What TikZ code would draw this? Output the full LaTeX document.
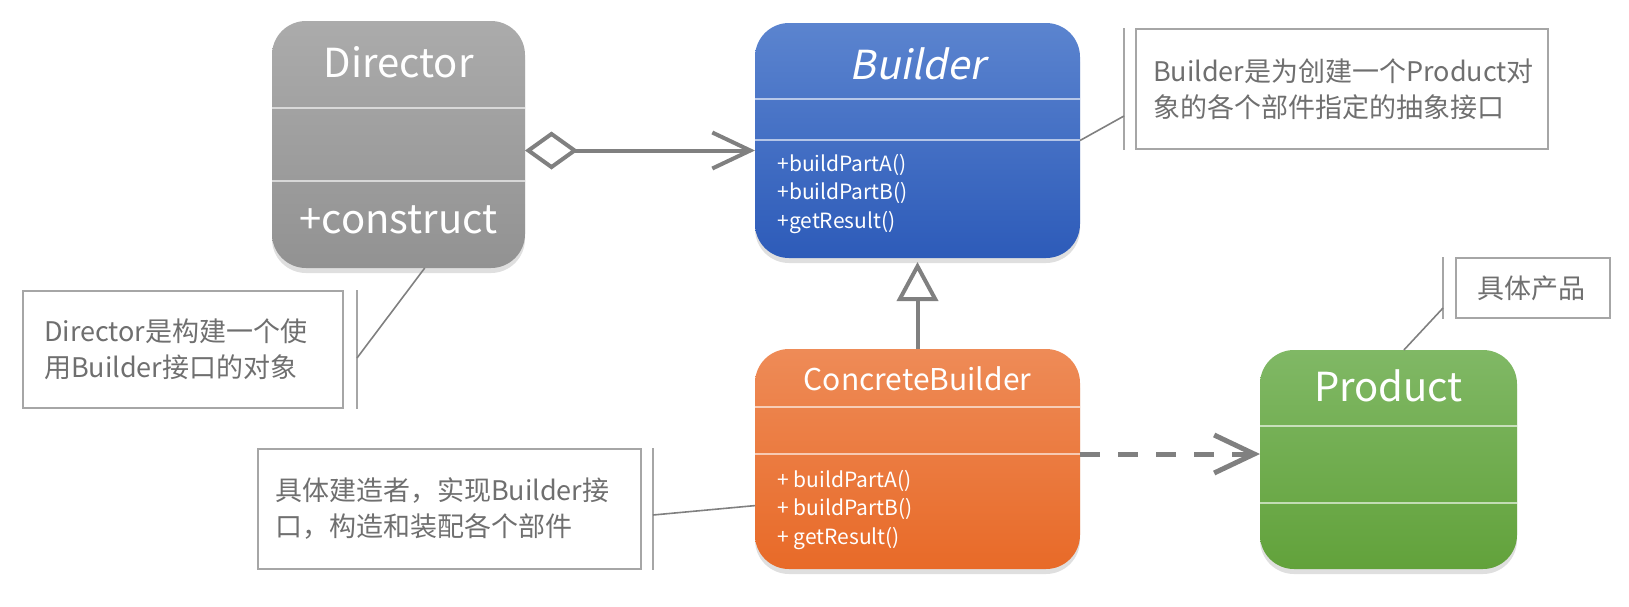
\documentclass[tikz,border=0pt]{standalone}
\usepackage{fontspec}
\setmainfont{Noto Sans CJK SC}
\newfontfamily\slantfont{Noto Sans CJK SC}[FakeSlant=0.2]
\usepackage{xcolor}
\usetikzlibrary{positioning, arrows.meta, shadows, calc}

\definecolor{linegray}{HTML}{808080}
\definecolor{notegray}{HTML}{A6A6A6}
\definecolor{notetext}{HTML}{6F6F6F}
\definecolor{dirtop}{HTML}{ABABAB}
\definecolor{dirbot}{HTML}{929292}
\definecolor{bldtop}{HTML}{5B84CF}
\definecolor{bldbot}{HTML}{2D5BB9}
\definecolor{cbtop}{HTML}{EE8B57}
\definecolor{cbbot}{HTML}{E86A28}
\definecolor{prodtop}{HTML}{80B865}
\definecolor{prodbot}{HTML}{62A23B}

\begin{document}
\begin{tikzpicture}[x=0.5pt, y=-0.5pt,
    umlclass/.style={rectangle, rounded corners=17pt, inner sep=0pt, outer sep=0pt, drop shadow={opacity=0.25, shadow xshift=0pt, shadow yshift=-2.5pt}},
    divider/.style={draw=white, draw opacity=0.6, line width=0.6pt},
    classname/.style={text=white, font=\fontsize{20}{24}\selectfont},
    methods/.style={text=white, anchor=west, align=left, inner sep=0pt, font=\fontsize{10.5}{14.25}\selectfont},
    note/.style={rectangle, draw=notegray, line width=1pt, text=notetext, align=left, inner ysep=0pt, font=\fontsize{13.5}{18}\selectfont},
    notebar/.style={draw=notegray, line width=1pt},
    pin/.style={draw=linegray, line width=0.8pt},
    aggregate/.style={draw=linegray, line width=2pt, {Diamond[open, length=26.5pt, width=19pt]}-{Straight Barb[length=19pt, width=18pt]}},
    inherit/.style={draw=linegray, line width=2pt, shorten >=2pt, -{Triangle[open, length=19.5pt, width=20.5pt]}},
    depend/.style={draw=linegray, line width=2.5pt, dash pattern=on 10pt off 9pt, -{Straight Barb[length=20pt, width=19pt]}}
]
\useasboundingbox (0,0) rectangle (1629,606);

% class boxes
\node[umlclass, top color=dirtop, bottom color=dirbot, minimum width=126.5pt, minimum height=123.5pt] (director) at (398.5,144.5) {};
\node[umlclass, top color=bldtop, bottom color=bldbot, minimum width=162.5pt, minimum height=117.5pt] (builder) at (917.5,140.5) {};
\node[umlclass, top color=cbtop, bottom color=cbbot, minimum width=162.5pt, minimum height=110pt] (concrete) at (917.5,459) {};
\node[umlclass, top color=prodtop, bottom color=prodbot, minimum width=128.5pt, minimum height=109.5pt] (product) at (1388.5,459.5) {};

\draw[divider] ($(director.north west)+(0,87)$) -- ($(director.north east)+(0,87)$);
\draw[divider] ($(director.north west)+(0,160)$) -- ($(director.north east)+(0,160)$);
\draw[divider] ($(builder.north west)+(0,76)$) -- ($(builder.north east)+(0,76)$);
\draw[divider] ($(builder.north west)+(0,117)$) -- ($(builder.north east)+(0,117)$);
\draw[divider] ($(concrete.north west)+(0,58)$) -- ($(concrete.north east)+(0,58)$);
\draw[divider] ($(concrete.north west)+(0,105)$) -- ($(concrete.north east)+(0,105)$);
\draw[divider] ($(product.north west)+(0,76)$) -- ($(product.north east)+(0,76)$);
\draw[divider] ($(product.north west)+(0,153)$) -- ($(product.north east)+(0,153)$);

\node[classname] (directorname) at (398.5,62) {Director};
\node[classname] (directorop) at (398.5,220) {+construct};
\node[classname] (buildername) at (917.5,64) {\slantfont Builder};
\node[methods] (builderops) at (777,194) {+buildPartA()\\+buildPartB()\\+getResult()};
\node[classname, font=\fontsize{15}{18}\selectfont] (concretename) at (917.5,379) {ConcreteBuilder};
\node[methods] (concreteops) at (777,510) {+ buildPartA()\\+ buildPartB()\\+ getResult()};
\node[classname] (productname) at (1388.5,386) {Product};

% notes
\node[note, minimum width=160pt, minimum height=58.5pt, inner xsep=10.5pt, text width=139pt] (dirnote) at (183,349.5) {Director是构建一个使\\用Builder接口的对象};
\node[note, minimum width=206pt, minimum height=60pt, inner xsep=8.5pt, text width=189pt] (bldnote) at (1342,89) {Builder是为创建一个Product对\\象的各个部件指定的抽象接口};
\node[note, minimum width=191.5pt, minimum height=60pt, inner xsep=8.5pt, text width=174.5pt] (cbnote) at (449.5,509) {具体建造者，实现Builder接\\口，构造和装配各个部件};
\node[note, minimum width=77pt, minimum height=30pt, inner xsep=10.5pt, text width=56pt] (prodnote) at (1533,288) {具体产品};

\draw[notebar] ([xshift=6.5pt]dirnote.north east) -- ([xshift=6.5pt]dirnote.south east);
\draw[notebar] ([xshift=-5.5pt]bldnote.north west) -- ([xshift=-5.5pt]bldnote.south west);
\draw[notebar] ([xshift=5.5pt]cbnote.north east) -- ([xshift=5.5pt]cbnote.south east);
\draw[notebar] ([xshift=-6pt]prodnote.north west) -- ([xshift=-6pt]prodnote.south west);

\coordinate (dirpin) at ([xshift=6.5pt, yshift=-4.25pt]dirnote.east);
\coordinate (bldpin) at ([xshift=-5.5pt, yshift=-13.5pt]bldnote.west);
\coordinate (cbpin) at ([xshift=5.5pt, yshift=-3pt]cbnote.east);
\coordinate (prodpin) at ([xshift=-6pt, yshift=-10pt]prodnote.west);
\draw[pin] (dirpin) -- (director.-78);
\draw[pin] (bldpin) -- (builder.east);
\draw[pin] (cbpin) -- (concrete.196);
\draw[pin] (prodpin) -- (product.82);

% relations
\coordinate (aggstart) at ([yshift=-3pt]director.east);
\draw[aggregate] (aggstart) -- (aggstart -| builder.west);
\draw[inherit] (concrete.north) -- (builder.south);
\coordinate (depstart) at ([yshift=2.5pt]concrete.east);
\draw[depend] (depstart) -- (depstart -| product.west);

\end{tikzpicture}
\end{document}
